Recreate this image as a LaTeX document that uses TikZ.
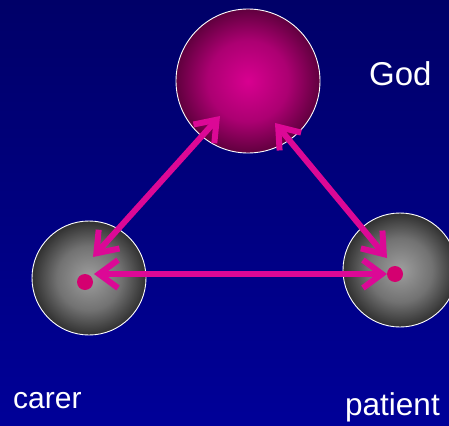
\documentclass[tikz,border=0pt]{standalone}
\usepackage{fontspec}
\setmainfont{Liberation Sans}
\usetikzlibrary{arrows.meta}

\definecolor{skytop}{RGB}{0,0,104}
\definecolor{skybot}{RGB}{0,0,152}
\definecolor{godcore}{RGB}{216,0,144}
\definecolor{godmid}{RGB}{172,0,114}
\definecolor{godrim}{RGB}{96,0,62}
\definecolor{stonecore}{RGB}{158,158,158}
\definecolor{stonemid}{RGB}{114,114,114}
\definecolor{stonerim}{RGB}{48,48,48}
\definecolor{linkpink}{RGB}{220,8,150}
\definecolor{dotpink}{RGB}{212,0,112}

% the node circle edge sits at 25bp of these shadings
\pgfdeclareradialshading{godball}{\pgfpoint{0bp}{0bp}}{%
  color(0bp)=(godcore); color(14bp)=(godmid); color(25bp)=(godrim); color(50bp)=(godrim)}
\pgfdeclareradialshading{stoneball}{\pgfpoint{0bp}{0bp}}{%
  color(0bp)=(stonecore); color(14bp)=(stonemid); color(25bp)=(stonerim); color(50bp)=(stonerim)}

\begin{document}
\begin{tikzpicture}[
  x=1pt, y=-1pt,
  ball/.style={circle, draw=white, line width=0.9pt, inner sep=0pt},
  spot/.style={circle, fill=dotpink, inner sep=0pt, minimum size=16pt},
  link/.style={{Straight Barb[length=19pt,width=28pt]}-{Straight Barb[length=19pt,width=28pt]},
               draw=linkpink, line width=6pt},
  lbl/.style={text=white, inner sep=0pt, anchor=base west},
]

% ── Background (dark navy at the top, brighter blue below) ───────────────────
\shade[top color=skytop, bottom color=skybot] (0,0) rectangle (449,425);
\useasboundingbox (0,0) rectangle (449,425);

% ── The three spheres ─────────────────────────────────────────────────────────
\node[ball, shading=godball, minimum size=144pt]   (god)     at (248,81)  {};
\node[ball, shading=stoneball, minimum size=114pt] (carer)   at (89,278)  {};
\node[ball, shading=stoneball, minimum size=114pt] (patient) at (400,270) {};

% ── Dots inside the grey spheres ──────────────────────────────────────────────
\node[spot] (carerdot)   at (85,282)  {};
\node[spot] (patientdot) at (395,274) {};

% ── Arrow ends ────────────────────────────────────────────────────────────────
\coordinate (godL)   at (220,116);
\coordinate (godR)   at (275,123);
\coordinate (carerT) at (93,257);
\coordinate (carerR) at (94,274);
\coordinate (patT)   at (387,258);
\coordinate (patL)   at (387,274);

% ── Links ─────────────────────────────────────────────────────────────────────
\draw[link] (godL) -- (carerT);
\draw[link] (godR) -- (patT);
\draw[link] (carerR) -- (patL);

% ── Labels ────────────────────────────────────────────────────────────────────
\node[lbl, font=\fontsize{33}{38}\selectfont] (godlbl)     at (369,86)  {God};
\node[lbl, font=\fontsize{30}{36}\selectfont] (carerlbl)   at (13,408)  {carer};
\node[lbl, font=\fontsize{31.5}{36}\selectfont] (patientlbl) at (345,415) {patient};

\end{tikzpicture}
\end{document}
